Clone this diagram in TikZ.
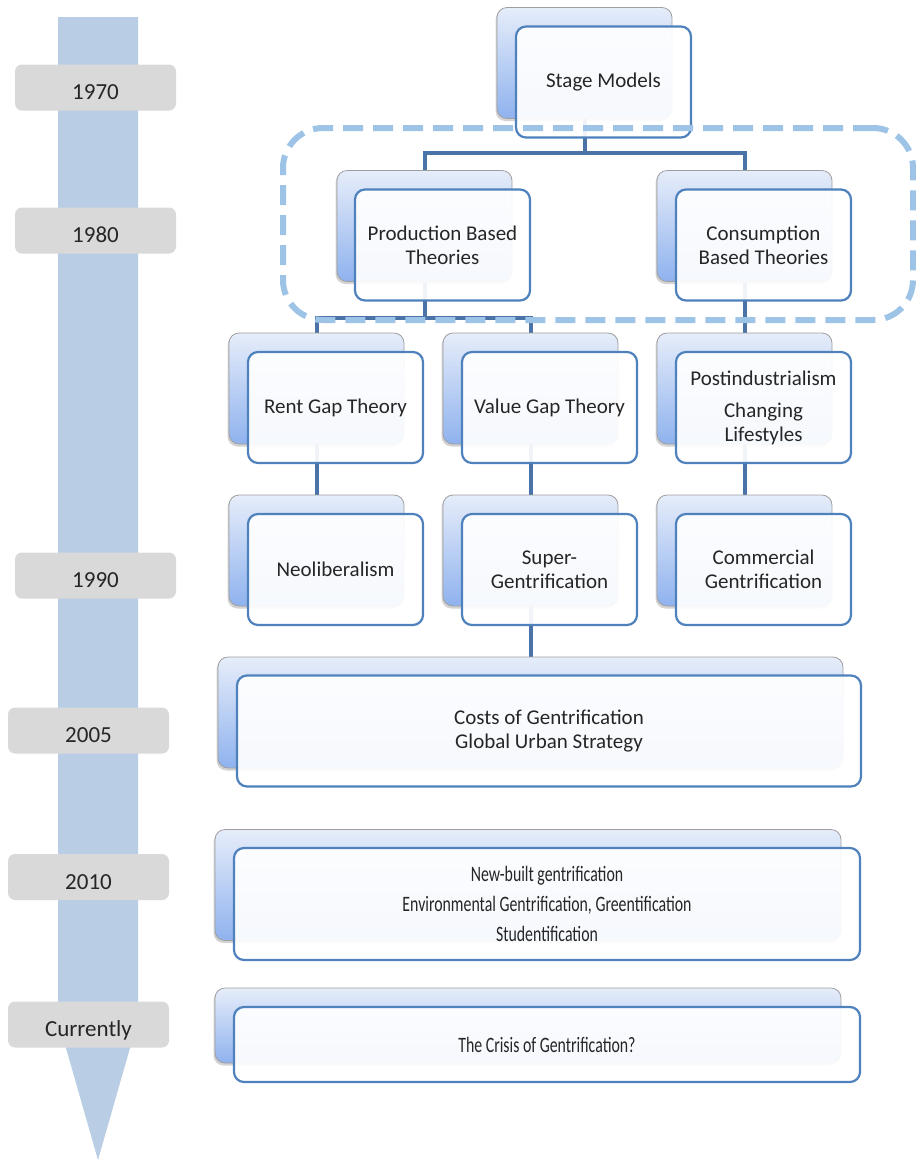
\documentclass[tikz,border=0pt]{standalone}
\usepackage{fontspec}
\setmainfont{Carlito}
\newfontfamily\narrowfont[FakeStretch=0.72]{Carlito}
\usepackage{tikz}
\usetikzlibrary{shadows,backgrounds}

\definecolor{barblue}{HTML}{B9CDE5}
\definecolor{frameblue}{HTML}{9DC3E6}
\definecolor{linkblue}{HTML}{4A74A8}
\definecolor{edgeblue}{HTML}{4F81BD}
\definecolor{yeargray}{HTML}{D9D9D9}
\definecolor{backtop}{HTML}{E6EDFA}
\definecolor{backbot}{HTML}{8FB2EE}

\tikzset{
  back/.style={draw=gray!75, line width=0.8pt, rounded corners=10pt,
    top color=backtop, bottom color=backbot,
    minimum width=175pt, minimum height=111pt, inner sep=0pt,
    drop shadow={shadow xshift=-1.5pt, shadow yshift=-2.5pt, opacity=0.35}},
  front/.style={draw=edgeblue, line width=2.2pt, rounded corners=10pt,
    fill=white, fill opacity=0.92, text opacity=1, text=black!85,
    minimum width=175pt, minimum height=111pt, inner sep=0pt,
    align=center, font=\fontsize{21}{24}\selectfont},
  year/.style={fill=yeargray, rounded corners=7pt, minimum width=161pt,
    minimum height=46pt, inner sep=0pt, text=black!85,
    text height=24.5pt, text depth=0pt,
    font=\fontsize{23}{26}\selectfont},
  link/.style={draw=linkblue, line width=4pt},
  frame/.style={draw=frameblue, line width=6pt, rounded corners=40pt,
    dash pattern=on 20pt off 10pt, minimum width=630pt, minimum height=192pt}
}

\begin{document}
\begin{tikzpicture}[x=1pt, y=-1pt]

    \useasboundingbox (0,0) rectangle (916,1163);

    % time line
    \fill[barblue] (58,17) -- (138,17) -- (138,1020) -- (98,1160) -- (58,1020) -- cycle;

    \node[year] (y1970) at (95.5,87.5) {1970};
    \node[year] (y1980) at (95.5,230.5) {1980};
    \node[year] (y1990) at (95.5,575.5) {1990};
    \node[year] (y2005) at (88.5,730.5) {2005};
    \node[year] (y2010) at (88.5,877) {2010};
    \node[year] (ynow) at (88.5,1024.5) {Currently};

    % boxes
    \node[back] (stageB) at (584.5,63) {};
    \node[front] (stage) at (603.5,82) {Stage Models};
    \node[back] (prodB) at (424.5,226) {};
    \node[front] (prod) at (442.5,245) {Production Based\\Theories};
    \node[back] (consB) at (744.5,226) {};
    \node[front] (cons) at (763.5,245) {Consumption\\Based Theories};
    \node[back] (rentB) at (316.5,388.5) {};
    \node[front] (rent) at (335.5,407.5) {Rent Gap Theory};
    \node[back] (valueB) at (530.5,388.5) {};
    \node[front] (value) at (549.5,407.5) {Value Gap Theory};
    \node[back] (postB) at (744.5,388.5) {};
    \node[front] (post) at (763.5,407.5) {Postindustrialism\\[8pt]Changing\\Lifestyles};
    \node[back] (neoB) at (316.5,550.5) {};
    \node[front] (neo) at (335.5,569.5) {Neoliberalism};
    \node[back] (superB) at (530.5,550.5) {};
    \node[front] (super) at (549.5,569.5) {Super-\\Gentrification};
    \node[back] (commB) at (744.5,550.5) {};
    \node[front] (comm) at (763.5,569.5) {Commercial\\Gentrification};
    \node[back, minimum width=625pt] (costsB) at (530.5,712.5) {};
    \node[front, minimum width=624pt] (costs) at (549,731) {Costs of Gentrification\\Global Urban Strategy};
    \node[back, minimum width=626pt] (newB) at (528,885) {};
    \node[front, minimum width=626pt, minimum height=112pt, font=\narrowfont\fontsize{22}{24}\selectfont] (new) at (547,904)
      {New-built gentrification\\[6pt]Environmental Gentrification, Greentification\\[6pt]Studentification};
    \node[back, minimum width=626pt, minimum height=75pt] (crisisB) at (528,1025.5) {};
    \node[front, minimum width=626pt, minimum height=75pt, font=\narrowfont\fontsize{22}{24}\selectfont] (crisis) at (547,1044.5)
      {The Crisis of Gentrification?};

    % connectors
    \coordinate (j1) at (584.5,153);
    \coordinate (j2) at (424.5,318);
    \begin{scope}[on background layer]
      \draw[link] (stageB.center) -- (j1) -| (prodB.center);
      \draw[link] (j1) -| (consB.center);
      \draw[link] (prodB.center) -- (j2) -| (rentB.center);
      \draw[link] (j2) -| (valueB.center);
      \draw[link] (consB.center) -- (postB.center);
      \draw[link] (rentB.center) -- (neoB.center);
      \draw[link] (valueB.center) -- (superB.center);
      \draw[link] (postB.center) -- (commB.center);
      \draw[link] (superB.center) -- (costsB.center);
    \end{scope}

    % group of the 1980s
    \node[frame] (grp) at (598,224) {};

\end{tikzpicture}
\end{document}
